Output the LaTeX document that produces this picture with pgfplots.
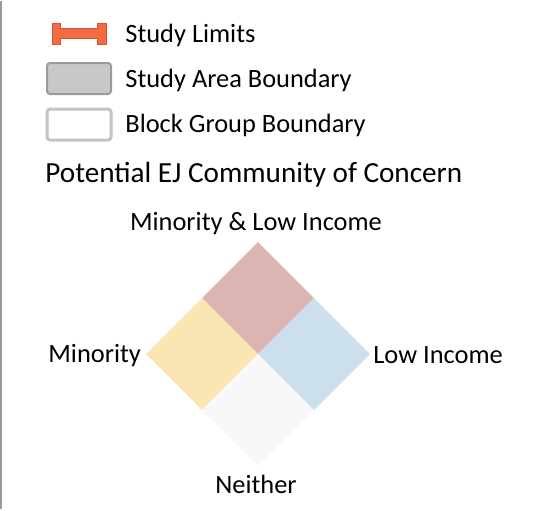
\documentclass[border=0pt]{standalone}
\usepackage{fontspec}
\setmainfont{Carlito}
\usepackage{pgfplots}
\pgfplotsset{compat=1.18}

\definecolor{limitfill}{HTML}{F26B43}
\definecolor{limitdraw}{HTML}{D2552F}
\definecolor{areafill}{HTML}{C8C8C8}
\definecolor{areadraw}{HTML}{9B9B9B}
\definecolor{bgdraw}{HTML}{C3C3C3}
\definecolor{both}{HTML}{DCB4B2}
\definecolor{minority}{HTML}{FBE6B3}
\definecolor{lowinc}{HTML}{CBE0EC}
\definecolor{neither}{HTML}{F8F8F8}
\definecolor{frame}{HTML}{9A9A9A}

\tikzset{lbl/.style={font=\fontsize{13.2}{15}\selectfont, text=black, inner sep=0pt}}

\begin{document}
\begin{tikzpicture}
\begin{axis}[
  x=0.5pt, y=0.5pt, y dir=reverse,
  xmin=0, xmax=555, ymin=0, ymax=508,
  hide axis, clip=false]
% page extent and left frame line
\addplot[draw=none] coordinates {(0,0) (555,508)};
\addplot[frame, line width=1pt] coordinates {(1,0) (1,508)};

% legend symbols
\addplot[fill=limitfill, draw=limitdraw, line width=0.5pt] coordinates {
  (52,22) (60,22) (60,27) (97,27) (97,22) (106,22) (106,43) (97,43)
  (97,37) (60,37) (60,43) (52,43)} -- cycle;
\addplot[fill=areafill, draw=areadraw, line width=1pt, rounded corners=1.5pt] coordinates {
  (47,62) (111,62) (111,93) (47,93)} -- cycle;
\addplot[fill=white, draw=bgdraw, line width=1.5pt, rounded corners=1.5pt] coordinates {
  (47,108) (111,108) (111,139) (47,139)} -- cycle;

% diamond of categories
\addplot[fill=both, draw=none] coordinates {(258,241) (314,297) (258,353) (202,297)} -- cycle;
\addplot[fill=minority, draw=none] coordinates {(202,297) (258,353) (202,409) (146,353)} -- cycle;
\addplot[fill=lowinc, draw=none] coordinates {(314,297) (370,353) (314,409) (258,353)} -- cycle;
\addplot[fill=neither, draw=none] coordinates {(258,353) (314,409) (258,465) (202,409)} -- cycle;

% texts
\node[lbl, anchor=base west] at (axis cs:125,41) {Study Limits};
\node[lbl, anchor=base west] at (axis cs:125,86) {Study Area Boundary};
\node[lbl, anchor=base west] at (axis cs:125,131) {Block Group Boundary};
\node[lbl, anchor=base west, font=\fontsize{14.6}{17}\selectfont] at (axis cs:45,181) {Potential EJ Community of Concern};
\node[lbl, anchor=base] at (axis cs:256,229) {Minority \& Low Income};
\node[lbl, anchor=base west] at (axis cs:48,361) {Minority};
\node[lbl, anchor=base west] at (axis cs:373,362) {Low Income};
\node[lbl, anchor=base] at (axis cs:256,492) {Neither};
\end{axis}
\end{tikzpicture}
\end{document}
